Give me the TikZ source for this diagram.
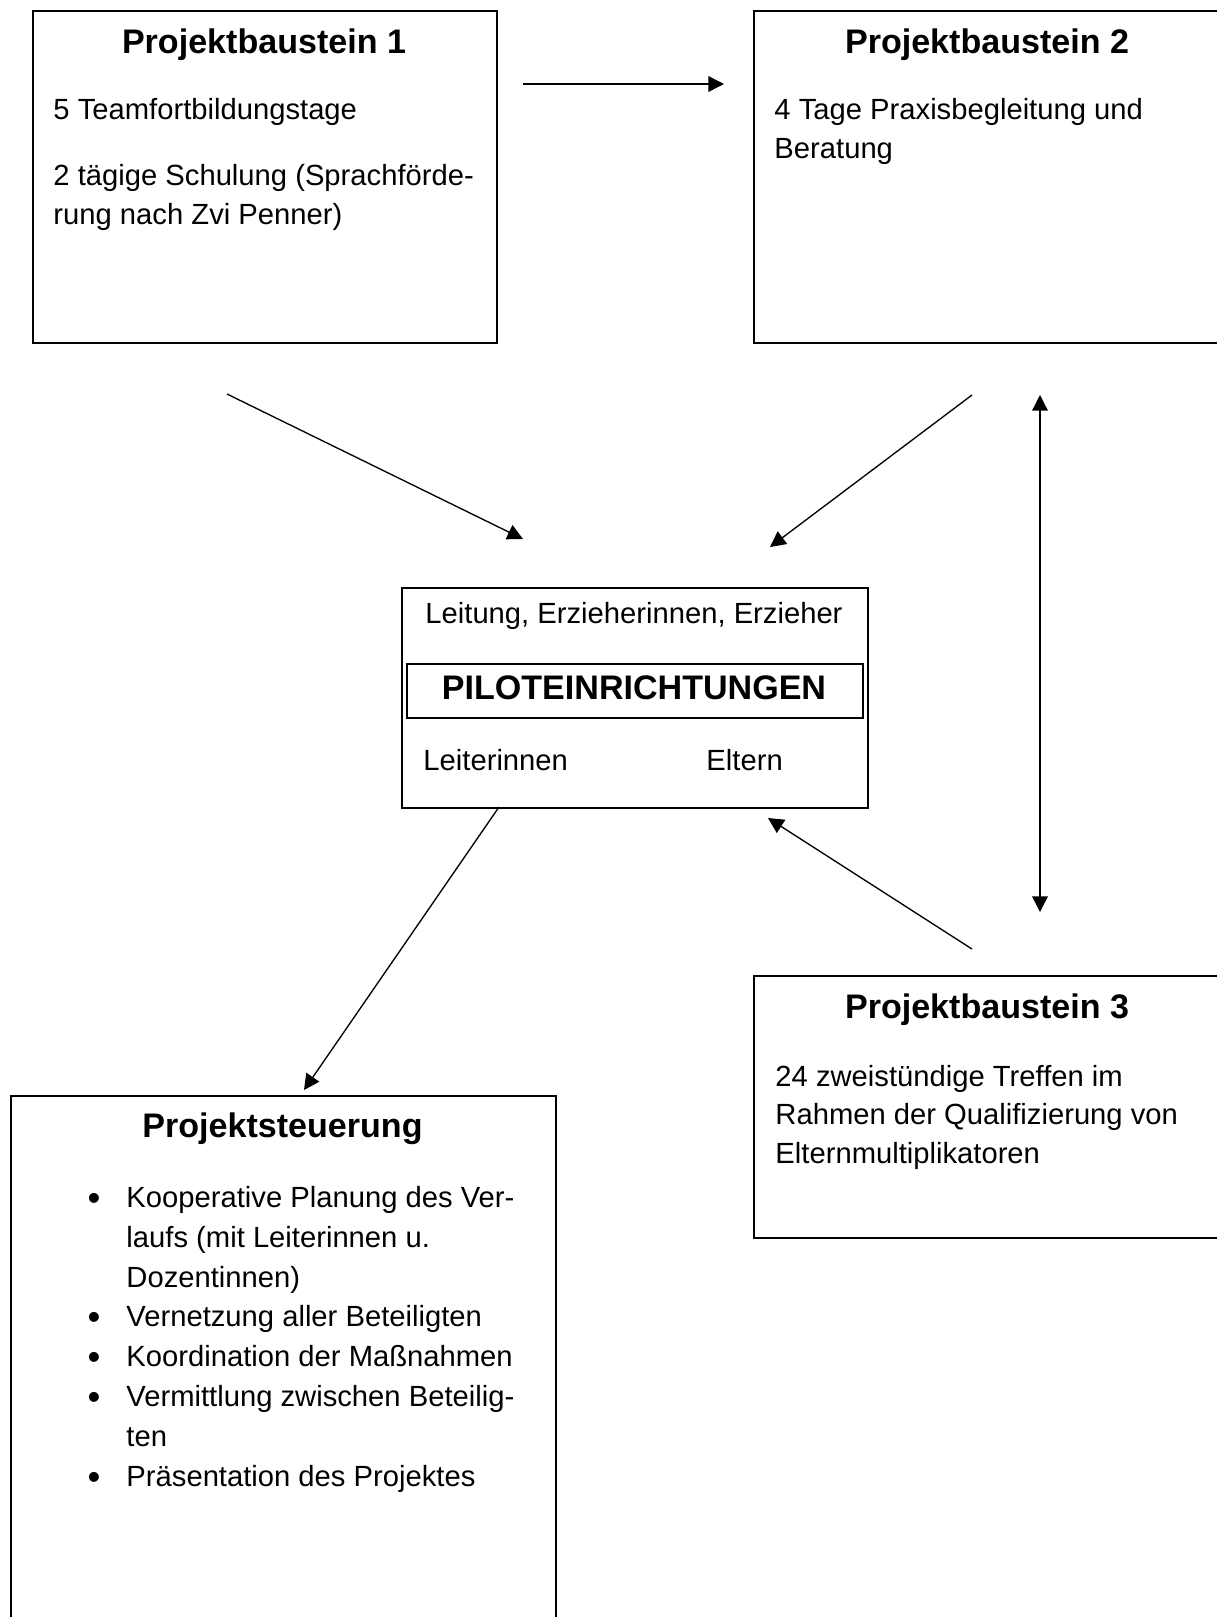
\documentclass[tikz,border=0pt]{standalone}
\usepackage{fontspec}
\setmainfont{Liberation Sans}
\usetikzlibrary{arrows.meta, positioning}

\def\px{0.411pt}

\begin{document}
\begin{tikzpicture}[x=\px, y=-\px,
    every node/.style={inner sep=0pt},
    box/.style args={#1 by #2}{
        draw, line width=0.8pt, rectangle, anchor=north west,
        minimum width=#1*\px, minimum height=#2*\px,
    },
    boxtitle/.style={
        font=\fontsize{14}{17}\selectfont\bfseries, anchor=base,
    },
    bodytext/.style={
        font=\fontsize{12}{14}\selectfont, anchor=base west,
    },
    centertext/.style={
        font=\fontsize{12}{14}\selectfont, anchor=base,
    },
    bulletmark/.style={
        font=\fontsize{15}{14}\selectfont, anchor=base,
    },
    conn/.style={
        line width=0.55pt, -{Triangle[length=6.4pt, width=6.4pt]},
    },
    twoway/.style={
        line width=0.55pt, {Triangle[length=6.4pt, width=6.4pt]}-{Triangle[length=6.4pt, width=6.4pt]},
    },
]

\useasboundingbox (0,0) rectangle (1217,1617);

% ── Projektbaustein 1 ─────────────────────────────────────────────────
\node[box=464 by 332] (bs1) at (32,10) {};
\node[boxtitle]  (bs1title) at (264,53) {Projektbaustein 1};
\node[bodytext] at (53,119) {5 Teamfortbildungstage};
\node[bodytext] at (53,185) {2 tägige Schulung (Sprachförde-};
\node[bodytext] at (53,224) {rung nach Zvi Penner)};

% ── Projektbaustein 2 ─────────────────────────────────────────────────
\node[box=468 by 332] (bs2) at (753,10) {};
\node[boxtitle]  (bs2title) at (987,53) {Projektbaustein 2};
\node[bodytext] at (774,119) {4 Tage Praxisbegleitung und};
\node[bodytext] at (774,158) {Beratung};

% ── Piloteinrichtungen ────────────────────────────────────────────────
\node[box=466 by 220] (pilot) at (401,587) {};
\node[box=456 by 54]  (pilotname) at (406,663) {};
\node[centertext] at (634,623.5) {Leitung, Erzieherinnen, Erzieher};
\node[boxtitle]   at (634,699) {PILOTEINRICHTUNGEN};
\node[bodytext]   at (423,770) {Leiterinnen};
\node[bodytext]   at (706,770) {Eltern};

% ── Projektbaustein 3 ─────────────────────────────────────────────────
\node[box=468 by 262] (bs3) at (753,975) {};
\node[boxtitle]  (bs3title) at (987,1018) {Projektbaustein 3};
\node[bodytext] at (775,1086) {24 zweistündige Treffen im};
\node[bodytext] at (775,1124.5) {Rahmen der Qualifizierung von};
\node[bodytext] at (775,1163) {Elternmultiplikatoren};

% ── Projektsteuerung ──────────────────────────────────────────────────
\node[box=545 by 535] (steuer) at (10,1095) {};
\node[boxtitle]  (steuertitle) at (282.5,1137) {Projektsteuerung};
\node[bulletmark] at (94,1210.5) {\textbullet};
\node[bodytext]   at (126,1207.5) {Kooperative Planung des Ver-};
\node[bodytext]   at (126,1247.3) {laufs (mit Leiterinnen u.};
\node[bodytext]   at (126,1287.1) {Dozentinnen)};
\node[bulletmark] at (94,1329.9) {\textbullet};
\node[bodytext]   at (126,1326.9) {Vernetzung aller Beteiligten};
\node[bulletmark] at (94,1369.7) {\textbullet};
\node[bodytext]   at (126,1366.7) {Koordination der Maßnahmen};
\node[bulletmark] at (94,1409.5) {\textbullet};
\node[bodytext]   at (126,1406.5) {Vermittlung zwischen Beteilig-};
\node[bodytext]   at (126,1446.3) {ten};
\node[bulletmark] at (94,1489.1) {\textbullet};
\node[bodytext]   at (126,1486.1) {Präsentation des Projektes};

% ── Connectors ────────────────────────────────────────────────────────
\coordinate (bs1right)  at (523,84);
\coordinate (bs2left)   at (724,84);
\coordinate (bs1below)  at (227,394);
\coordinate (pilotnw)   at (523,539);
\coordinate (bs2below)  at (972,395);
\coordinate (pilotne)   at (770,547);
\coordinate (bs2side)   at (1040,395);
\coordinate (bs3side)   at (1040,912);
\coordinate (bs3above)  at (972,949);
\coordinate (pilotse)   at (768,818);
\coordinate (pilotsw)   at (499,807);
\coordinate (steuertop) at (304,1090);

\draw[conn]   (bs1right) -- (bs2left);
\draw[conn]   (bs1below) -- (pilotnw);
\draw[conn]   (bs2below) -- (pilotne);
\draw[twoway] (bs2side) -- (bs3side);
\draw[conn]   (bs3above) -- (pilotse);
\draw[conn]   (pilotsw) -- (steuertop);

\end{tikzpicture}
\end{document}
